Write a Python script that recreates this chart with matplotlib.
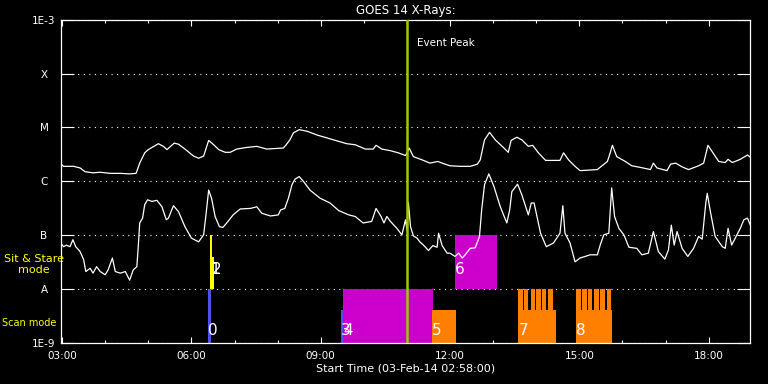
import matplotlib
matplotlib.use('Agg')
import matplotlib.pyplot as plt
import matplotlib.dates as mdates
import numpy as np
import pandas as pd

day = '2014-02-03'

# GOES 14 long channel (1-8 A), log10 flux in W/m^2
long_times = ['02:58', '03:02', '03:16', '03:25', '03:32', '03:43', '03:53', '04:07', '04:21', '04:34',
              '04:43', '04:48', '04:55', '05:00', '05:14', '05:21', '05:26', '05:36', '05:42', '05:51',
              '06:03', '06:10', '06:17', '06:24', '06:31', '06:38', '06:47', '06:54', '07:03', '07:17',
              '07:31', '07:45', '08:08', '08:12', '08:17', '08:22', '08:30', '08:41', '08:55', '09:18',
              '09:36', '09:48', '10:02', '10:13', '10:17', '10:25', '10:37', '10:48', '10:58', '11:00',
              '11:03', '11:09', '11:23', '11:32', '11:43', '11:51', '12:00', '12:14', '12:28', '12:38',
              '12:42', '12:48', '12:55', '13:03', '13:15', '13:21', '13:25', '13:33', '13:40', '13:49',
              '13:55', '14:03', '14:13', '14:33', '14:38', '14:45', '14:54', '15:01', '15:25', '15:39',
              '15:42', '15:46', '15:52', '16:04', '16:13', '16:25', '16:39', '16:43', '16:48', '17:02',
              '17:07', '17:14', '17:23', '17:32', '17:46', '17:53', '17:59', '18:05', '18:14', '18:23',
              '18:27', '18:33', '18:44', '18:54', '18:58']
long_log = [-5.67, -5.72, -5.72, -5.75, -5.82, -5.84, -5.83, -5.85, -5.85, -5.86,
            -5.85, -5.66, -5.47, -5.41, -5.30, -5.35, -5.41, -5.29, -5.31, -5.40,
            -5.53, -5.57, -5.53, -5.24, -5.32, -5.41, -5.46, -5.46, -5.40, -5.37,
            -5.35, -5.40, -5.38, -5.32, -5.23, -5.10, -5.04, -5.07, -5.14, -5.23,
            -5.30, -5.32, -5.40, -5.40, -5.33, -5.40, -5.43, -5.47, -5.52, -5.47,
            -5.38, -5.54, -5.61, -5.66, -5.63, -5.67, -5.71, -5.72, -5.72, -5.68,
            -5.60, -5.23, -5.09, -5.23, -5.38, -5.46, -5.24, -5.18, -5.23, -5.35,
            -5.33, -5.47, -5.61, -5.61, -5.47, -5.60, -5.72, -5.80, -5.78, -5.63,
            -5.51, -5.33, -5.54, -5.63, -5.71, -5.74, -5.78, -5.66, -5.75, -5.80,
            -5.68, -5.66, -5.73, -5.78, -5.71, -5.66, -5.33, -5.45, -5.63, -5.65,
            -5.59, -5.65, -5.59, -5.51, -5.55]

# GOES 14 short channel (0.5-4 A), log10 flux in W/m^2
short_times = ['02:58', '03:02', '03:06', '03:11', '03:15', '03:19', '03:25', '03:30', '03:33', '03:39',
               '03:43', '03:48', '03:53', '04:00', '04:04', '04:10', '04:14', '04:21', '04:28', '04:34',
               '04:39', '04:44', '04:46', '04:48', '04:52', '04:55', '04:59', '05:05', '05:12', '05:19',
               '05:25', '05:28', '05:35', '05:42', '05:51', '06:00', '06:10', '06:17', '06:20', '06:24',
               '06:28', '06:33', '06:39', '06:44', '06:51', '06:58', '07:08', '07:22', '07:31', '07:38',
               '07:50', '08:01', '08:04', '08:10', '08:15', '08:20', '08:24', '08:30', '08:36', '08:45',
               '08:59', '09:13', '09:25', '09:39', '09:48', '09:59', '10:11', '10:17', '10:24', '10:28',
               '10:32', '10:37', '10:46', '10:53', '10:58', '11:00', '11:02', '11:05', '11:09', '11:14',
               '11:18', '11:23', '11:30', '11:36', '11:42', '11:44', '11:49', '11:56', '12:00', '12:07',
               '12:12', '12:17', '12:21', '12:28', '12:35', '12:41', '12:44', '12:48', '12:54', '13:01',
               '13:10', '13:19', '13:23', '13:26', '13:34', '13:40', '13:49', '13:53', '13:57', '14:06',
               '14:14', '14:24', '14:33', '14:37', '14:40', '14:47', '14:54', '15:01', '15:08', '15:15',
               '15:25', '15:29', '15:34', '15:41', '15:45', '15:49', '15:55', '16:02', '16:09', '16:20',
               '16:27', '16:36', '16:43', '16:50', '16:59', '17:04', '17:08', '17:12', '17:16', '17:23',
               '17:31', '17:39', '17:46', '17:51', '17:56', '17:58', '18:02', '18:09', '18:19', '18:23',
               '18:27', '18:32', '18:37', '18:44', '18:49', '18:54', '18:58']
short_log = [-7.14, -7.21, -7.18, -7.21, -7.08, -7.21, -7.30, -7.45, -7.67, -7.61,
             -7.70, -7.58, -7.67, -7.73, -7.64, -7.42, -7.67, -7.70, -7.67, -7.83,
             -7.64, -7.58, -7.21, -6.77, -6.68, -6.43, -6.34, -6.37, -6.35, -6.47,
             -6.71, -6.68, -6.45, -6.56, -6.84, -7.05, -7.12, -6.99, -6.65, -6.16,
             -6.31, -6.65, -6.84, -6.85, -6.74, -6.62, -6.51, -6.50, -6.47, -6.59,
             -6.64, -6.62, -6.53, -6.50, -6.31, -6.06, -5.96, -5.91, -6.00, -6.16,
             -6.31, -6.40, -6.54, -6.62, -6.65, -6.77, -6.74, -6.50, -6.65, -6.77,
             -6.65, -6.74, -6.87, -6.99, -6.71, -6.90, -6.39, -6.84, -7.01, -7.05,
             -7.12, -7.18, -7.28, -7.19, -7.22, -6.96, -7.19, -7.33, -7.33, -7.39,
             -7.33, -7.42, -7.36, -7.24, -7.23, -7.02, -6.53, -6.06, -5.86, -6.09,
             -6.47, -6.77, -6.53, -6.19, -6.05, -6.25, -6.62, -6.40, -6.40, -6.96,
             -7.21, -7.14, -6.96, -6.45, -6.96, -7.14, -7.49, -7.42, -7.39, -7.36,
             -7.36, -7.18, -6.99, -6.96, -6.12, -6.65, -6.87, -6.99, -7.22, -7.24,
             -7.36, -7.33, -6.93, -7.30, -7.44, -7.27, -6.81, -7.18, -6.93, -7.24,
             -7.39, -7.24, -7.02, -7.07, -6.40, -6.22, -6.53, -7.02, -7.21, -7.24,
             -6.87, -7.18, -7.05, -6.87, -6.71, -6.68, -6.81]

# Observations (number, time window, flux band, colour)
obs_labels = ['0', '1', '2', '3', '4', '5', '6', '7', '8']
obs_start = ['06:23', '06:26', '06:28', '09:28', '09:31', '11:35', '12:07', '13:35', '14:56']
obs_end = ['06:27', '06:29', '06:31', '09:31', '11:36', '12:08', '13:05', '14:28', '15:45']
obs_low = [1e-9, 1e-8, 1e-8, 1e-9, 1e-9, 1e-9, 1e-8, 1e-9, 1e-9]
obs_high = [1e-8, 1e-7, 4e-8, 4.2e-9, 1e-8, 4.2e-9, 1e-7, 4.2e-9, 4.2e-9]
obs_colors = ['#5050f0', '#ffff00', '#ffff00', '#5050f0', '#cc00cc',
              '#ff8000', '#cc00cc', '#ff8000', '#ff8000']

# Individual raster scans inside observations 7 and 8
scan_starts = ['13:35', '13:43', '13:52', '14:00', '14:08', '14:17',
               '14:56', '15:04', '15:12', '15:21', '15:29', '15:38']
scan_minutes = 6.0

event_peak = '11:00'
x_range = ['02:58', '18:58']

y_ticks = [1e-9, 1e-8, 1e-7, 1e-6, 1e-5, 1e-4, 1e-3]
y_ticklabels = ['1E-9', 'A', 'B', 'C', 'M', 'X', '1E-3']


def to_num(times):
    # HH:MM strings -> matplotlib date numbers
    return mdates.date2num(pd.to_datetime([day + ' ' + t for t in times]))


def main():
    fig = plt.figure(figsize=(7.68, 3.84), dpi=100, facecolor='black')
    ax = fig.add_axes([0.079, 0.106, 0.898, 0.843], facecolor='black')

    # Observation boxes
    starts = to_num(obs_start)
    ends = to_num(obs_end)
    for lab, s, e, lo, hi, col in zip(obs_labels, starts, ends, obs_low, obs_high, obs_colors):
        ax.bar(s, hi - lo, width=e - s, bottom=lo, align='edge', color=col, linewidth=0, zorder=2)
        ylab = 1.26e-9 if lo < 5e-9 else 1.7e-8
        ax.text(s, ylab, lab, color='white', fontsize=11, ha='left', va='bottom', zorder=5)

    scan_width = scan_minutes / (24.0 * 60.0)
    for s in to_num(scan_starts):
        ax.bar(s, 1e-8 - 1e-9, width=scan_width, bottom=1e-9, align='edge',
               color='#ff8000', linewidth=0, antialiased=False, zorder=2)

    # X-ray curves
    ax.plot(to_num(long_times), 10 ** np.array(long_log), color='white', lw=0.9, zorder=3)
    ax.plot(to_num(short_times), 10 ** np.array(short_log), color='white', lw=0.9, zorder=3)

    # Event peak
    peak = to_num([event_peak])[0]
    ax.axvline(peak, color='#a0c800', lw=1.8, zorder=4)
    ax.annotate('Event Peak', xy=(peak, 10 ** -3.44), xytext=(7, 0), textcoords='offset points',
                color='white', fontsize=7.5, ha='left', va='center')

    # Axes
    ax.set_yscale('log')
    ax.set_ylim(1e-9, 1e-3)
    xr = to_num(x_range)
    ax.set_xlim(xr[0], xr[1])
    ax.set_yticks(y_ticks)
    ax.set_yticklabels(y_ticklabels)
    ax.yaxis.set_minor_locator(matplotlib.ticker.NullLocator())
    for lbl in ax.get_yticklabels():
        lbl.set_horizontalalignment('center')

    ax.xaxis.set_major_locator(mdates.HourLocator(byhour=range(0, 24, 3)))
    ax.xaxis.set_minor_locator(mdates.HourLocator())
    ax.xaxis.set_major_formatter(mdates.DateFormatter('%H:%M'))

    ax.tick_params(axis='x', which='major', direction='in', length=4.3, width=0.8,
                   top=True, colors='white', labelsize=7.5, pad=5.5)
    ax.tick_params(axis='x', which='minor', direction='in', length=2.4, width=0.8,
                   top=True, colors='white')
    ax.tick_params(axis='y', which='major', direction='in', length=9.6, width=0.8,
                   right=True, colors='white', labelsize=7.5, pad=12)

    ax.grid(axis='y', which='major', color='white', linestyle=(0, (1, 4)), linewidth=0.8)
    ax.set_axisbelow(True)
    for sp in ax.spines.values():
        sp.set_color('white')
        sp.set_linewidth(0.9)

    ax.set_title('GOES 14 X-Rays:', color='white', fontsize=8.5, pad=4)
    ax.set_xlabel('Start Time (03-Feb-14 02:58:00)', color='white', fontsize=8, labelpad=2)

    # Mode labels on the left
    fig.text(34 / 768, 1 - 264.5 / 384, 'Sit & Stare\nmode', color='#ffff00', fontsize=8,
             ha='center', va='center', linespacing=1.1)
    fig.text(2 / 768, 1 - 323.5 / 384, 'Scan mode', color='#ffff00', fontsize=7,
             ha='left', va='center')

    fig.savefig('out.png', dpi=100, facecolor='black')


if __name__ == '__main__':
    main()
